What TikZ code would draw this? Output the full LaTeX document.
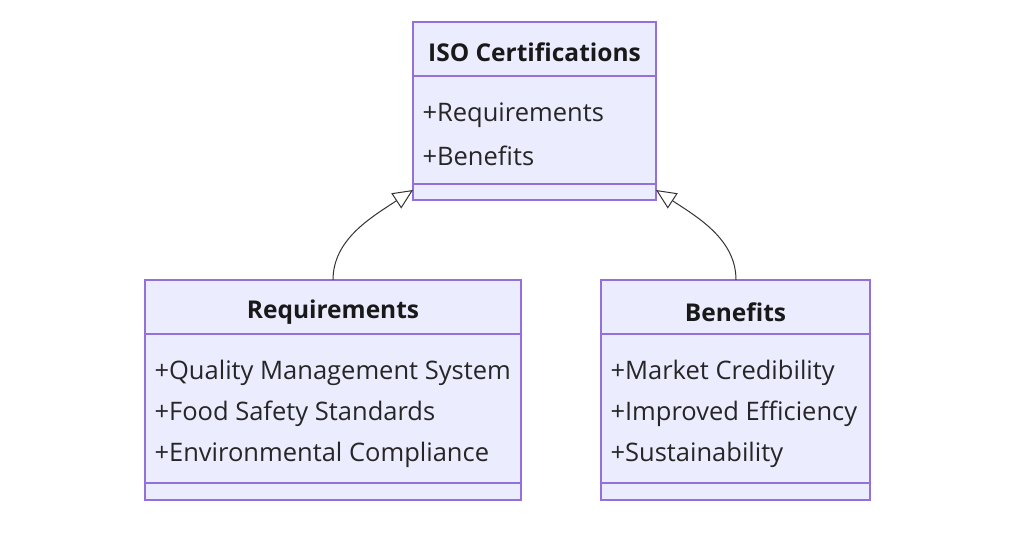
\documentclass[tikz,border=0pt]{standalone}
\usepackage{fontspec}
\setmainfont{Open Sans}
\usetikzlibrary{arrows.meta,positioning}

\begin{document}
\begin{tikzpicture}[x=1pt,y=-1pt,
  box/.style={draw=boxline,fill=boxfill,line width=1.2pt},
  title/.style={font=\fontsize{24.5}{29}\selectfont\bfseries,text=black!90},
  member/.style={anchor=west,font=\fontsize{25.5}{30}\selectfont,text=black!85},
  inherit/.style={draw=black!80,line width=1pt,-{Triangle[open,length=20pt,width=18pt,fill=white]}}
]
\definecolor{boxfill}{HTML}{ECECFF}
\definecolor{boxline}{HTML}{9370DB}
\useasboundingbox (0,0) rectangle (1024,533);

% ISO Certifications
\draw[box] (413,22) rectangle (656,200);
\draw[boxline,line width=1.2pt] (413,76) -- (656,76) (413,184) -- (656,184);
\node[title] (iso) at (534.5,52) {ISO Certifications};
\node[member] (iso1) at (419,115) {+Requirements};
\node[member] (iso2) at (419,156) {+Benefits};
\coordinate (isoL) at (413,190);
\coordinate (isoR) at (656,190);

% Requirements
\draw[box] (145,280) rectangle (521,500);
\draw[boxline,line width=1.2pt] (145,334) -- (521,334) (145,483) -- (521,483);
\node[title] (req) at (333,312) {Requirements};
\node[member] (req1) at (151,373) {+Quality Management System};
\node[member] (req2) at (151,414) {+Food Safety Standards};
\node[member] (req3) at (151,455) {+Environmental Compliance};
\coordinate (reqT) at (333,280);

% Benefits
\draw[box] (601,280) rectangle (870,500);
\draw[boxline,line width=1.2pt] (601,334) -- (870,334) (601,483) -- (870,483);
\node[title] (ben) at (735.5,312) {Benefits};
\node[member] (ben1) at (607,373) {+Market Credibility};
\node[member] (ben2) at (607,414) {+Improved Efficiency};
\node[member] (ben3) at (607,455) {+Sustainability};
\coordinate (benT) at (736,280);

\draw[inherit] (reqT) .. controls (333,240) and (370,218) .. (isoL);
\draw[inherit] (benT) .. controls (736,240) and (699,218) .. (isoR);
\end{tikzpicture}
\end{document}
